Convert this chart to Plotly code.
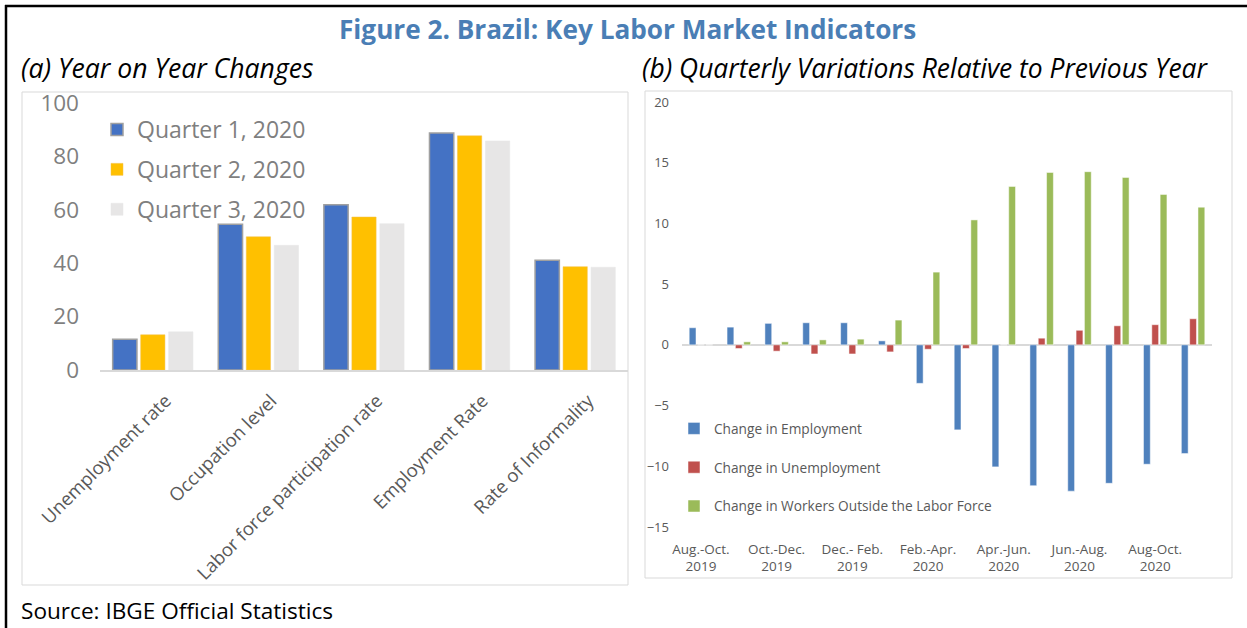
import plotly.graph_objects as go

# ---------------- Data ----------------
# Panel (a)
indicators = ["Unemployment rate", "Occupation level", "Labor force participation rate",
              "Employment Rate", "Rate of Informality"]
q1_2020 = [11.5, 54.6, 61.9, 88.8, 41.1]
q2_2020 = [13.2, 49.9, 57.3, 87.7, 38.7]
q3_2020 = [14.3, 46.7, 54.8, 85.8, 38.5]
left_ticks = [0, 20, 40, 60, 80, 100]

# Panel (b)
periods = ["Aug.-Oct. 2019", "Sep.-Nov. 2019", "Oct.-Dec. 2019", "Nov.-Jan. 2019",
           "Dec.- Feb. 2019", "Jan.-Mar. 2020", "Feb.-Apr. 2020", "Mar.-May 2020",
           "Apr.-Jun. 2020", "May-Jul. 2020", "Jun.-Aug. 2020", "Jul.-Sep. 2020",
           "Aug-Oct. 2020", "Sep.-Nov. 2020"]
chg_employment = [1.41, 1.46, 1.77, 1.82, 1.82, 0.33, -3.17, -7.0, -10.05, -11.6,
                  -12.05, -11.4, -9.83, -8.95]
chg_unemployment = [0.0, -0.3, -0.52, -0.75, -0.75, -0.58, -0.36, -0.3, 0.0, 0.55,
                    1.2, 1.57, 1.66, 2.15]
chg_outside = [0.0, 0.25, 0.25, 0.41, 0.47, 2.04, 5.99, 10.29, 13.05, 14.2,
               14.26, 13.79, 12.39, 11.34]
right_ticks = [-15, -10, -5, 0, 5, 10, 15, 20]
right_tick_periods = periods[::2]
right_tick_text = ["Aug.-Oct.<br>2019", "Oct.-Dec.<br>2019", "Dec.- Feb.<br>2019",
                   "Feb.-Apr.<br>2020", "Apr.-Jun.<br>2020", "Jun.-Aug.<br>2020",
                   "Aug-Oct.<br>2020"]

# ---------------- Figure ----------------
W, H = 1247, 628
FONT = "Open Sans"
GRAY = "#595959"

def px(x):
    return x / W

def py(y):
    return 1 - y / H

fig = go.Figure()

# Panel (a) bars
lw, loffs = 0.23, [-0.38, -0.115, 0.15]
for name, vals, col, line_col, lw_line, off in [
    ("Quarter 1, 2020", q1_2020, "#4472C4", "#A0A0A0", 1.5, loffs[0]),
    ("Quarter 2, 2020", q2_2020, "#FFC000", "#F2C14E", 0.5, loffs[1]),
    ("Quarter 3, 2020", q3_2020, "#E7E6E6", "#E7E6E6", 0.5, loffs[2]),
]:
    fig.add_trace(go.Bar(
        x=indicators, y=vals, name=name, width=lw, offset=off,
        marker=dict(color=col, line=dict(color=line_col, width=lw_line)),
        xaxis="x", yaxis="y", legend="legend", legendgroup=name,
    ))

# Panel (b) bars
rw, roffs = 0.18, [-0.31, -0.09, 0.13]
for name, vals, col, off in [
    ("Change in Employment", chg_employment, "#4F81BD", roffs[0]),
    ("Change in Unemployment", chg_unemployment, "#C0504D", roffs[1]),
    ("Change in Workers Outside the Labor Force", chg_outside, "#9BBB59", roffs[2]),
]:
    fig.add_trace(go.Bar(
        x=periods, y=vals, name=name, width=rw, offset=off,
        marker=dict(color=col, line=dict(color="white", width=0.5)),
        xaxis="x2", yaxis="y2", legend="legend2", legendgroup=name,
    ))

fig.update_layout(
    template="none",
    width=W, height=H, autosize=False,
    margin=dict(l=0, r=0, t=0, b=0, pad=0, autoexpand=False),
    paper_bgcolor="white", plot_bgcolor="white",
    font=dict(family=FONT, color=GRAY),
    barmode="group",
    xaxis=dict(domain=[px(100), px(628)], anchor="y", type="category",
               tickangle=-45, tickfont=dict(size=18.5, color=GRAY),
               showline=True, linecolor="#D9D9D9", linewidth=1.5,
               ticks="", showgrid=False, ticklabelstandoff=11, ticklabelshift=13,
               automargin=False),
    yaxis=dict(domain=[py(370), py(103)], anchor="x", range=[0, 100],
               tickvals=left_ticks, tickfont=dict(size=22.5, color="#7F7F7F"),
               showgrid=False, zeroline=False, showline=False, ticks="",
               ticklabelstandoff=20, automargin=False),
    xaxis2=dict(domain=[px(682), px(1212)], anchor="y2", type="category",
                tickvals=right_tick_periods, ticktext=right_tick_text,
                tickangle=0, tickfont=dict(size=13.5, color=GRAY),
                showline=False, ticks="", showgrid=False, ticklabelstandoff=12,
                automargin=False),
    yaxis2=dict(domain=[py(527), py(102)], anchor="x2", range=[-15, 20],
                tickvals=right_ticks, tickfont=dict(size=13, color=GRAY),
                showgrid=False, zeroline=True, zerolinecolor="#D9D9D9",
                zerolinewidth=1.5, showline=False, ticks="", ticklabelstandoff=12,
                automargin=False),
    legend=dict(x=px(97), y=py(108), xanchor="left", yanchor="top",
                font=dict(size=23, color="#7F7F7F"), bgcolor="rgba(0,0,0,0)",
                borderwidth=0, tracegroupgap=7, itemwidth=30),
    legend2=dict(x=px(674), y=py(413), xanchor="left", yanchor="top",
                 font=dict(size=13.7, color=GRAY), bgcolor="rgba(0,0,0,0)",
                 borderwidth=0, tracegroupgap=18, itemwidth=30),
    showlegend=True,
)

# Texts
fig.add_annotation(x=0.5035, y=py(29), xref="paper", yref="paper",
                   text="<b>Figure 2. Brazil: Key Labor Market Indicators</b>",
                   showarrow=False, font=dict(family=FONT, size=26.2, color="#4A7EB5"),
                   xanchor="center", yanchor="middle")
fig.add_annotation(x=px(19), y=py(68), xref="paper", yref="paper",
                   text="<i>(a) Year on Year Changes</i>", showarrow=False,
                   font=dict(family=FONT, size=26.6, color="black"),
                   xanchor="left", yanchor="middle")
fig.add_annotation(x=px(640), y=py(68), xref="paper", yref="paper",
                   text="<i>(b) Quarterly Variations Relative to Previous Year</i>",
                   showarrow=False, font=dict(family=FONT, size=26.4, color="black"),
                   xanchor="left", yanchor="middle")
fig.add_annotation(x=px(19), y=py(610), xref="paper", yref="paper",
                   text="Source: IBGE Official Statistics", showarrow=False,
                   font=dict(family=FONT, size=22.6, color="black"),
                   xanchor="left", yanchor="middle")

# Frames
shapes = [
    dict(type="rect", xref="paper", yref="paper", x0=px(22), x1=px(628),
         y0=py(585), y1=py(92), line=dict(color="#D9D9D9", width=1)),
    dict(type="rect", xref="paper", yref="paper", x0=px(645), x1=px(1232),
         y0=py(578), y1=py(91), line=dict(color="#D9D9D9", width=1)),
    dict(type="line", xref="paper", yref="paper", x0=px(5), x1=px(1247),
         y0=py(6), y1=py(6), line=dict(color="black", width=2.5)),
    dict(type="line", xref="paper", yref="paper", x0=px(6), x1=px(6),
         y0=py(5), y1=py(628), line=dict(color="black", width=2.5)),
]
fig.update_layout(shapes=shapes)

fig.write_html("out.html",
               config={"displayModeBar": False},
               post_script="document.body.style.margin='0px';"
                           "document.body.style.overflow='hidden';"
                           "document.documentElement.style.overflow='hidden';")
